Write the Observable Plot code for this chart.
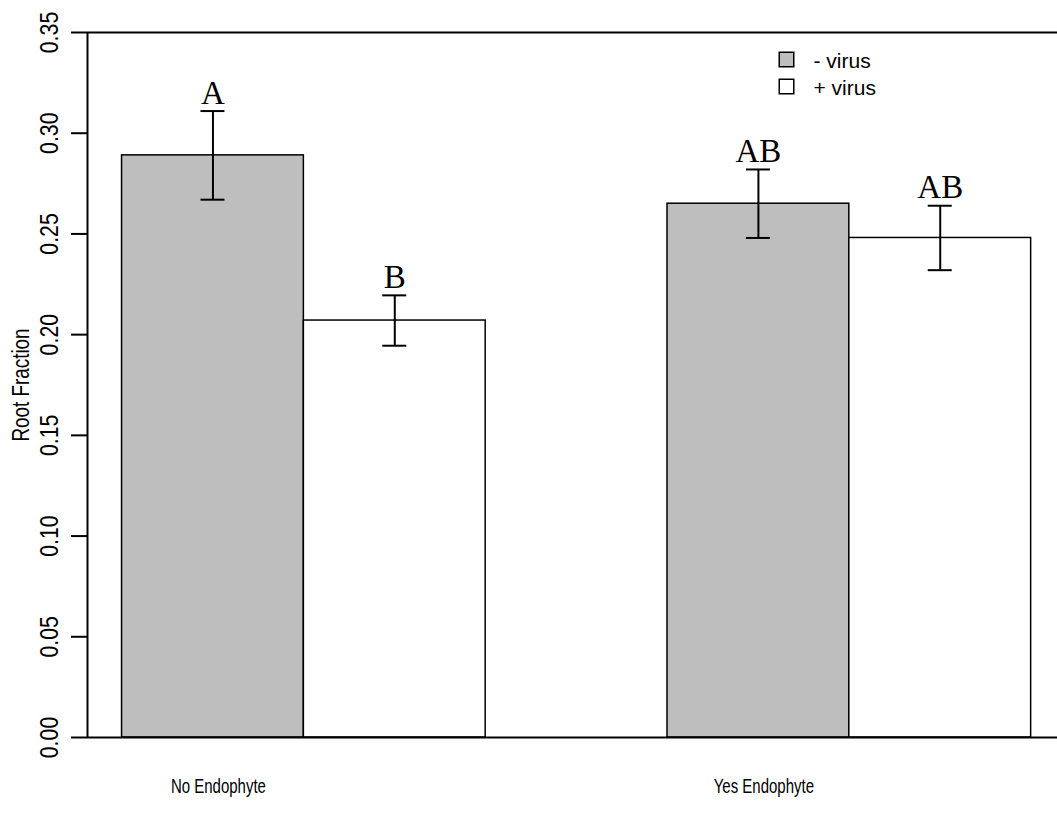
<!DOCTYPE html>
<html>
<head>
<meta charset="utf-8">
<script src="https://cdn.jsdelivr.net/npm/d3@7"></script>
<script src="https://cdn.jsdelivr.net/npm/@observablehq/plot@0.6"></script>
<style>
  html, body { margin: 0; padding: 0; background: #ffffff; }
  #chart svg { display: block; }
</style>
</head>
<body>
<div id="chart"></div>
<script>
// Root fraction by endophyte status, split by virus infection (mean ± SE)
const groups = ["No Endophyte", "Yes Endophyte"];
const series = ["- virus", "+ virus"];
const meanNo = [0.289, 0.207];
const meanYes = [0.265, 0.248];
const seNo = [0.022, 0.0125];
const seYes = [0.017, 0.016];
const letters = ["A", "B", "AB", "AB"];
const yTicks = [0, 0.05, 0.10, 0.15, 0.20, 0.25, 0.30, 0.35];
const yLabel = "Root Fraction";
const fills = ["#bebebe", "#ffffff"];

const means = [meanNo, meanYes];
const ses = [seNo, seYes];

// barplot-style layout: bars of width 1, one empty slot between groups
const rows = groups.flatMap((g, gi) => series.map((s, si) => ({
  group: g,
  series: s,
  slot: 1 + 3 * gi + si,
  mean: means[gi][si],
  se: ses[gi][si],
  letter: letters[gi * 2 + si]
})));
const capHalf = 0.066;

const sans = "'Liberation Sans', Arial, Helvetica, sans-serif";
const serif = "'Liberation Serif', 'Times New Roman', serif";

// font sizes of the axis label groups, and the horizontal squeeze that gives them a condensed look
const tickFont = 26, yLabelFont = 23, xLabelFont = 20;
const squeeze = {[tickFont]: 0.82, [yLabelFont]: 0.82, [xLabelFont]: 0.75};

const legendMarks = series.flatMap((s, i) => [
  Plot.dot([s], {frameAnchor: "top-left", dx: 699, dy: 27 + 27 * i, symbol: "square", r: 8.2,
    fill: (d) => d, stroke: "black", strokeWidth: 1.5}),
  Plot.text([s], {frameAnchor: "top-left", dx: 726, dy: 29 + 27 * i, text: (d) => d,
    textAnchor: "start", lineAnchor: "middle", fontSize: 21, fontFamily: sans, fill: "black"})
]);

const chart = Plot.plot({
  width: 1057,
  height: 827,
  marginLeft: 87,
  marginRight: 0,
  marginTop: 32,
  marginBottom: 90,
  style: {background: "#ffffff", color: "black"},
  x: {domain: [0.81, 6.145], axis: null},
  y: {domain: [0, 0.35], axis: null},
  color: {domain: series, range: fills},
  marks: [
    Plot.rect(rows, {x1: "slot", x2: (d) => d.slot + 1, y1: 0, y2: "mean",
      fill: "series", stroke: "black", strokeWidth: 1.5}),
    Plot.ruleX(rows, {x: (d) => d.slot + 0.5, y1: (d) => d.mean - d.se, y2: (d) => d.mean + d.se,
      stroke: "black", strokeWidth: 2}),
    Plot.ruleY(rows, {y: (d) => d.mean + d.se, x1: (d) => d.slot + 0.5 - capHalf, x2: (d) => d.slot + 0.5 + capHalf,
      stroke: "black", strokeWidth: 2}),
    Plot.ruleY(rows, {y: (d) => d.mean - d.se, x1: (d) => d.slot + 0.5 - capHalf, x2: (d) => d.slot + 0.5 + capHalf,
      stroke: "black", strokeWidth: 2}),
    Plot.text(rows, {x: (d) => d.slot + 0.5, y: (d) => d.mean + d.se, text: "letter", dy: -18,
      lineAnchor: "middle", fontSize: 33, fontFamily: serif, fill: "black"}),
    // box lines: top, bottom and left axis
    Plot.ruleY([0, 0.35], {stroke: "black", strokeWidth: 2}),
    Plot.ruleX([0.81], {stroke: "black", strokeWidth: 2}),
    Plot.axisY({ticks: yTicks, tickSize: 16, tickFormat: () => "", label: null, strokeWidth: 2, stroke: "black"}),
    Plot.text(yTicks, {y: (d) => d, frameAnchor: "left", dx: -38, rotate: -90, text: (d) => d.toFixed(2),
      textAnchor: "middle", lineAnchor: "middle", fontSize: tickFont, fontFamily: sans, fill: "black"}),
    Plot.text([yLabel], {frameAnchor: "left", dx: -66, rotate: -90, text: (d) => d,
      textAnchor: "middle", lineAnchor: "middle", fontSize: yLabelFont, fontFamily: sans, fill: "black"}),
    Plot.text(groups, {x: (d, i) => 1.53 + 3 * i, frameAnchor: "bottom", dy: 49, text: (d) => d,
      textAnchor: "middle", lineAnchor: "middle", fontSize: xLabelFont, fontFamily: sans, fill: "black"}),
    ...legendMarks
  ]
});

chart.querySelectorAll("g[font-size]").forEach((g) => {
  const k = squeeze[g.getAttribute("font-size")];
  if (!k) return;
  g.querySelectorAll("text").forEach((t) => {
    const tr = t.getAttribute("transform") || "";
    t.setAttribute("transform", `${tr} scale(${k},1)`.trim());
  });
});

document.getElementById("chart").append(chart);
</script>
</body>
</html>
